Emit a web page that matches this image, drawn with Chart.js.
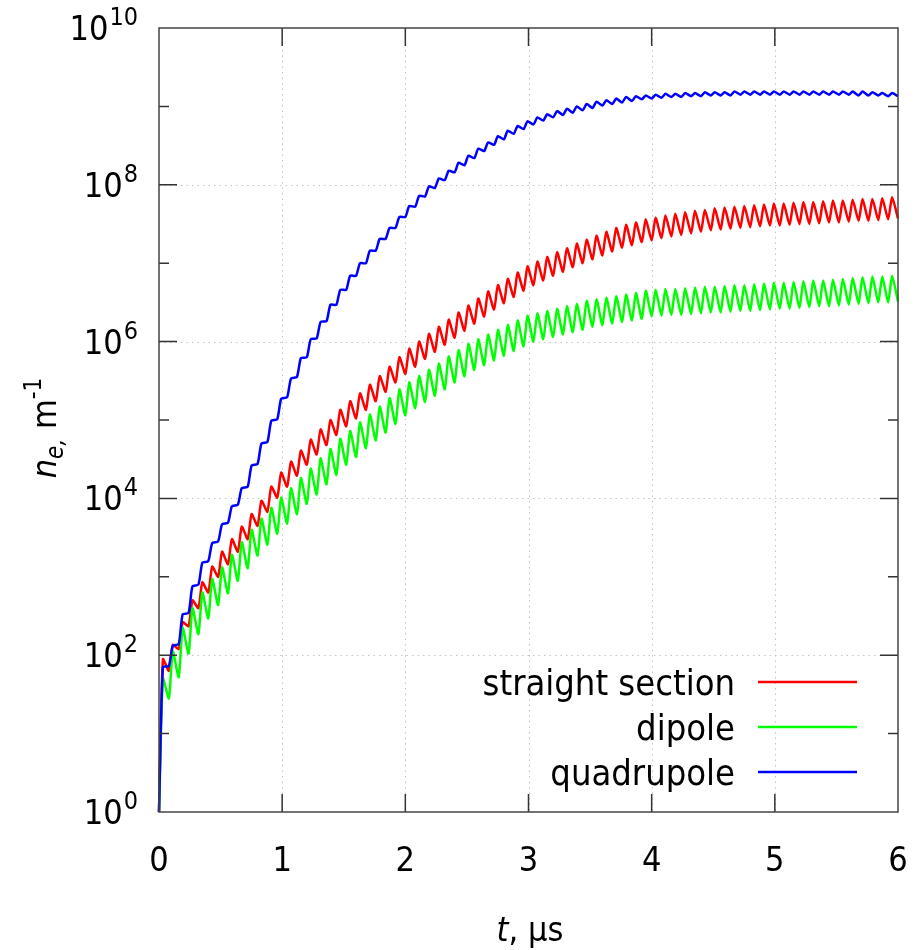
<!DOCTYPE html>
<html>
<head>
<meta charset="utf-8">
<script src="https://cdn.jsdelivr.net/npm/chart.js@4.4.0/dist/chart.umd.min.js"></script>
<style>
  html, body { margin: 0; padding: 0; background: #fff; }
  #wrap { width: 918px; height: 950px; }
</style>
</head>
<body>
<div id="wrap"><canvas id="neChart" width="918" height="950"></canvas></div>
<script>
const FONT = '"DejaVu Sans Condensed", "DejaVu Sans", sans-serif';

// Bunches pass every 80 ns; the density peaks ~32 ns after each passage
const BUNCH_SPACING_NS = 80;
const PEAK_DELAY_NS = 32;

const xTicks = [0, 1, 2, 3, 4, 5, 6];
const yDecades = [0, 1, 2, 3, 4, 5, 6, 7, 8, 9, 10];
const yLabelDecades = [0, 2, 4, 6, 8, 10];

const seriesNames = ['straight section', 'dipole', 'quadrupole'];
const seriesColors = ['#ff0000', '#00ff00', '#0000ff'];

// log10(n_e) just before each bunch passage (t = k * 80 ns, last entry at 6 us)
const straightTroughs = [
  0, 1.80, 2.08, 2.37, 2.60, 2.80, 3.00, 3.16, 3.32, 3.48,
  3.65, 3.83, 4.01, 4.15, 4.29, 4.43, 4.56, 4.68, 4.81, 4.92,
  5.02, 5.13, 5.24, 5.36, 5.48, 5.59, 5.68, 5.78, 5.87, 5.96,
  6.05, 6.14, 6.23, 6.32, 6.41, 6.49, 6.57, 6.65, 6.72, 6.78,
  6.84, 6.89, 6.95, 7.00, 7.05, 7.10, 7.15, 7.20, 7.23, 7.27,
  7.29, 7.32, 7.34, 7.36, 7.38, 7.40, 7.42, 7.43, 7.44, 7.45,
  7.46, 7.47, 7.48, 7.48, 7.49, 7.50, 7.50, 7.51, 7.52, 7.52,
  7.53, 7.54, 7.54, 7.55, 7.56, 7.57
];
// log10(n_e) at the peak after each bunch passage
const straightPeaks = [
  1.95, 2.13, 2.42, 2.70, 2.93, 3.13, 3.32, 3.48, 3.64, 3.80,
  3.97, 4.15, 4.33, 4.47, 4.61, 4.75, 4.88, 5.00, 5.13, 5.24,
  5.34, 5.45, 5.56, 5.68, 5.80, 5.91, 6.00, 6.10, 6.19, 6.28,
  6.37, 6.46, 6.55, 6.64, 6.72, 6.80, 6.88, 6.96, 7.02, 7.08,
  7.14, 7.19, 7.25, 7.30, 7.35, 7.40, 7.45, 7.49, 7.52, 7.56,
  7.58, 7.61, 7.63, 7.65, 7.67, 7.68, 7.70, 7.71, 7.72, 7.73,
  7.74, 7.75, 7.76, 7.76, 7.77, 7.78, 7.78, 7.79, 7.80, 7.80,
  7.81, 7.82, 7.82, 7.83, 7.84
];

const dipoleTroughs = [
  0, 1.45, 1.72, 2.02, 2.27, 2.47, 2.64, 2.79, 2.95, 3.11,
  3.27, 3.41, 3.55, 3.68, 3.80, 3.93, 4.05, 4.18, 4.30, 4.43,
  4.53, 4.64, 4.74, 4.84, 4.95, 5.06, 5.15, 5.23, 5.31, 5.39,
  5.48, 5.56, 5.64, 5.70, 5.76, 5.82, 5.88, 5.94, 6.00, 6.03,
  6.06, 6.09, 6.12, 6.15, 6.19, 6.21, 6.23, 6.25, 6.27, 6.29,
  6.32, 6.33, 6.34, 6.34, 6.35, 6.36, 6.37, 6.37, 6.38, 6.39,
  6.39, 6.40, 6.41, 6.42, 6.42, 6.43, 6.44, 6.45, 6.45, 6.46,
  6.47, 6.48, 6.49, 6.50, 6.50, 6.51
];
const dipolePeaks = [
  1.70, 2.05, 2.35, 2.60, 2.80, 2.97, 3.12, 3.28, 3.44, 3.60,
  3.74, 3.88, 4.01, 4.13, 4.26, 4.38, 4.51, 4.63, 4.76, 4.86,
  4.97, 5.07, 5.17, 5.28, 5.39, 5.48, 5.56, 5.64, 5.72, 5.81,
  5.89, 5.97, 6.03, 6.09, 6.15, 6.21, 6.27, 6.33, 6.36, 6.39,
  6.42, 6.45, 6.48, 6.52, 6.54, 6.56, 6.58, 6.60, 6.62, 6.65,
  6.66, 6.67, 6.67, 6.68, 6.69, 6.70, 6.70, 6.71, 6.72, 6.72,
  6.73, 6.74, 6.75, 6.75, 6.76, 6.77, 6.78, 6.78, 6.79, 6.80,
  6.81, 6.82, 6.83, 6.83, 6.84
];

const quadrupoleTroughs = [
  0, 1.86, 2.14, 2.54, 2.90, 3.20, 3.45, 3.69, 3.92, 4.15,
  4.44, 4.72, 5.01, 5.29, 5.55, 5.80, 6.04, 6.26, 6.47, 6.66,
  6.84, 7.00, 7.16, 7.31, 7.45, 7.59, 7.72, 7.85, 7.96, 8.06,
  8.16, 8.25, 8.34, 8.43, 8.51, 8.58, 8.65, 8.71, 8.77, 8.82,
  8.86, 8.89, 8.92, 8.95, 8.98, 9.01, 9.03, 9.05, 9.07, 9.09,
  9.10, 9.11, 9.12, 9.12, 9.13, 9.13, 9.14, 9.14, 9.14, 9.15,
  9.15, 9.15, 9.15, 9.15, 9.15, 9.15, 9.15, 9.15, 9.15, 9.15,
  9.15, 9.14, 9.14, 9.14, 9.13, 9.13
];
const quadrupolePeaks = [
  1.85, 2.12, 2.52, 2.88, 3.18, 3.43, 3.67, 3.90, 4.13, 4.42,
  4.70, 4.99, 5.27, 5.53, 5.79, 6.03, 6.25, 6.47, 6.66, 6.84,
  7.00, 7.16, 7.31, 7.45, 7.59, 7.73, 7.86, 7.98, 8.08, 8.18,
  8.28, 8.37, 8.46, 8.54, 8.62, 8.69, 8.75, 8.81, 8.86, 8.90,
  8.94, 8.97, 9.00, 9.03, 9.06, 9.08, 9.10, 9.12, 9.13, 9.14,
  9.15, 9.16, 9.16, 9.17, 9.17, 9.18, 9.18, 9.18, 9.19, 9.19,
  9.19, 9.19, 9.19, 9.19, 9.19, 9.19, 9.19, 9.19, 9.19, 9.19,
  9.19, 9.19, 9.18, 9.17, 9.17
];

// Interleave troughs and peaks into {x: t [us], y: n_e} points
function buildPoints(troughs, peaks) {
    const pts = [];
    troughs.forEach((q, k) => {
        const t = k * BUNCH_SPACING_NS;
        pts.push({ x: t / 1000, y: Math.pow(10, q) });
        if (k < peaks.length) {
            pts.push({ x: (t + PEAK_DELAY_NS) / 1000, y: Math.pow(10, peaks[k]) });
        }
    });
    return pts;
}

const seriesPoints = [
    buildPoints(straightTroughs, straightPeaks),
    buildPoints(dipoleTroughs, dipolePeaks),
    buildPoints(quadrupoleTroughs, quadrupolePeaks)
];

// "10" with a raised exponent, right aligned at x, centred on y
function drawPower(ctx, exp, x, y) {
    ctx.textAlign = 'left';
    ctx.textBaseline = 'alphabetic';
    ctx.font = '34px ' + FONT;
    const baseW = ctx.measureText('10').width;
    ctx.font = '25px ' + FONT;
    const expW = ctx.measureText(String(exp)).width;
    const left = x - baseW - expW;
    ctx.font = '34px ' + FONT;
    ctx.fillText('10', left, y + 12);
    ctx.font = '25px ' + FONT;
    ctx.fillText(String(exp), left + baseW + 1, y - 3);
}

// Draw a run of differently styled pieces along the baseline
function drawRuns(ctx, runs, x, y) {
    let cx = x;
    runs.forEach(r => {
        ctx.font = r.font;
        ctx.fillText(r.text, cx, y + (r.dy || 0));
        cx += ctx.measureText(r.text).width + (r.gap || 0);
    });
}

function runsWidth(ctx, runs) {
    return runs.reduce((w, r) => {
        ctx.font = r.font;
        return w + ctx.measureText(r.text).width + (r.gap || 0);
    }, 0);
}

const framePlugin = {
    id: 'framePlugin',
    beforeDatasetsDraw(chart) {
        const { ctx, chartArea: a, scales: { x, y } } = chart;
        ctx.save();
        ctx.strokeStyle = '#c4c4c4';
        ctx.lineWidth = 1;
        ctx.setLineDash([1.5, 4]);
        xTicks.slice(1, -1).forEach(v => {
            const px = Math.round(x.getPixelForValue(v)) + 0.5;
            ctx.beginPath();
            ctx.moveTo(px, a.top);
            ctx.lineTo(px, a.bottom);
            ctx.stroke();
        });
        yLabelDecades.slice(1, -1).forEach(e => {
            const py = Math.round(y.getPixelForValue(Math.pow(10, e))) + 0.5;
            ctx.beginPath();
            ctx.moveTo(a.left, py);
            ctx.lineTo(a.right, py);
            ctx.stroke();
        });
        ctx.restore();
    },
    afterDatasetsDraw(chart) {
        const { ctx, chartArea: a, scales: { x, y } } = chart;
        ctx.save();

        // tick marks pointing inwards on all four sides
        ctx.strokeStyle = '#333';
        ctx.lineWidth = 1.5;
        const major = 18, minor = 10;
        xTicks.slice(1, -1).forEach(v => {
            const px = x.getPixelForValue(v);
            ctx.beginPath();
            ctx.moveTo(px, a.bottom); ctx.lineTo(px, a.bottom - major);
            ctx.moveTo(px, a.top); ctx.lineTo(px, a.top + major);
            ctx.stroke();
        });
        yDecades.slice(1, -1).forEach(e => {
            const py = y.getPixelForValue(Math.pow(10, e));
            const len = e % 2 === 0 ? major : minor;
            ctx.beginPath();
            ctx.moveTo(a.left, py); ctx.lineTo(a.left + len, py);
            ctx.moveTo(a.right, py); ctx.lineTo(a.right - len, py);
            ctx.stroke();
        });

        // frame
        ctx.strokeStyle = '#444';
        ctx.lineWidth = 1.5;
        ctx.strokeRect(a.left, a.top, a.right - a.left, a.bottom - a.top);

        // tick labels
        ctx.fillStyle = '#000';
        yLabelDecades.forEach(e => {
            drawPower(ctx, e, 137, y.getPixelForValue(Math.pow(10, e)));
        });
        ctx.font = '34px ' + FONT;
        ctx.textAlign = 'center';
        ctx.textBaseline = 'alphabetic';
        xTicks.forEach(v => {
            ctx.fillText(String(v), x.getPixelForValue(v), 871);
        });

        // axis titles
        ctx.textAlign = 'left';
        const xRuns = [
            { text: 't', font: 'italic 34px ' + FONT },
            { text: ', µs', font: '34px ' + FONT }
        ];
        drawRuns(ctx, xRuns, 530 - runsWidth(ctx, xRuns) / 2, 941);

        const yRuns = [
            { text: 'n', font: 'italic 34px ' + FONT },
            { text: 'e,', font: 'italic 24px ' + FONT, dy: 7 },
            { text: ' m', font: '34px ' + FONT },
            { text: '-1', font: '24px ' + FONT, dy: -15 }
        ];
        ctx.save();
        ctx.translate(56, 428);
        ctx.rotate(-Math.PI / 2);
        drawRuns(ctx, yRuns, -runsWidth(ctx, yRuns) / 2, 0);
        ctx.restore();

        // legend: right aligned names with a line sample after each
        ctx.font = '36px ' + FONT;
        ctx.textAlign = 'right';
        seriesNames.forEach((name, i) => {
            const ly = 682 + i * 45;
            ctx.fillStyle = '#000';
            ctx.fillText(name, 735, ly + 13);
            ctx.strokeStyle = seriesColors[i];
            ctx.lineWidth = 2.5;
            ctx.beginPath();
            ctx.moveTo(758, ly);
            ctx.lineTo(857, ly);
            ctx.stroke();
        });

        ctx.restore();
    }
};

new Chart(document.getElementById('neChart'), {
    type: 'line',
    data: {
        datasets: seriesNames.map((name, i) => ({
            label: name,
            data: seriesPoints[i],
            borderColor: seriesColors[i],
            borderWidth: 2.5,
            pointRadius: 0,
            tension: 0.2,
            fill: false,
            clip: 3,
            order: 2 - i
        }))
    },
    options: {
        responsive: false,
        animation: false,
        parsing: false,
        layout: { padding: { left: 159, right: 20, top: 28, bottom: 138 } },
        plugins: {
            legend: { display: false },
            tooltip: { enabled: false }
        },
        scales: {
            x: { type: 'linear', display: false, min: 0, max: 6 },
            y: { type: 'logarithmic', display: false, min: 1, max: 1e10 }
        }
    },
    plugins: [framePlugin]
});
</script>
</body>
</html>
